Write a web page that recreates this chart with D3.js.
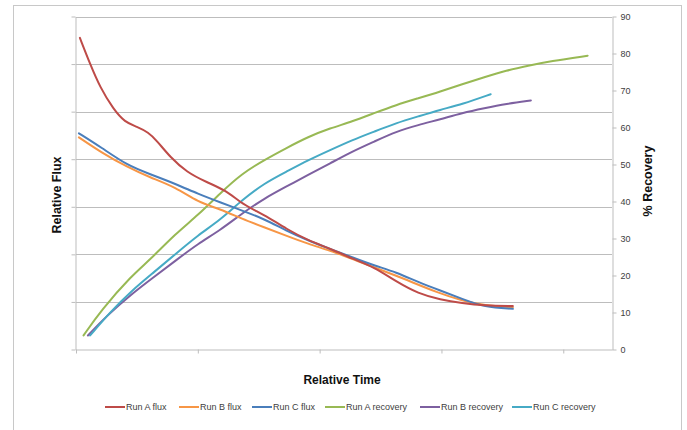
<!DOCTYPE html>
<html>
<head>
<meta charset="utf-8">
<script src="https://cdn.jsdelivr.net/npm/d3@7"></script>
<style>
  html, body { margin: 0; padding: 0; background: #fff; }
  svg { display: block; font-family: Arial, "Liberation Sans", sans-serif; }
</style>
</head>
<body>
<svg id="chart" width="687" height="430"></svg>
<script>
// ---------------- DATA ----------------
const seriesNames = ["Run A flux", "Run B flux", "Run C flux", "Run A recovery", "Run B recovery", "Run C recovery"];
const seriesColors = ["#BE4B48", "#F79646", "#4A7EBB", "#98B954", "#7D60A0", "#46AAC5"];

// Relative time (x) and relative flux (left axis)
const runAFluxT = [0.16, 0.58, 0.99, 1.53, 2.01, 2.50, 2.97, 3.32, 3.87, 4.55, 5.37, 6.17, 6.73, 7.36, 7.89, 8.62, 9.53, 10.44, 11.33, 12.24, 13.14, 14.05, 14.95, 15.85, 16.76, 17.93];
const runAFlux  = [1.310, 1.200, 1.102, 1.011, 0.955, 0.937, 0.913, 0.878, 0.808, 0.745, 0.703, 0.668, 0.619, 0.584, 0.556, 0.508, 0.458, 0.424, 0.382, 0.346, 0.286, 0.235, 0.210, 0.195, 0.185, 0.183];

const runBFluxT = [0.12, 1.03, 2.12, 3.02, 4.10, 5.01, 5.91, 6.82, 7.72, 8.62, 9.53, 10.43, 11.33, 13.14, 14.95, 15.85, 16.76, 17.93];
const runBFlux  = [0.892, 0.829, 0.766, 0.724, 0.682, 0.619, 0.591, 0.549, 0.514, 0.479, 0.444, 0.416, 0.381, 0.311, 0.234, 0.206, 0.185, 0.178];

const runCFluxT = [0.12, 1.03, 2.12, 3.02, 4.10, 5.01, 5.91, 6.82, 7.72, 8.62, 9.53, 10.43, 11.33, 12.24, 13.14, 14.05, 14.95, 15.85, 16.76, 17.93];
const runCFlux  = [0.909, 0.850, 0.773, 0.738, 0.696, 0.654, 0.619, 0.584, 0.549, 0.500, 0.458, 0.423, 0.388, 0.353, 0.325, 0.283, 0.248, 0.213, 0.178, 0.171];

// % recovery (right axis)
const runARecT = [0.31, 1.03, 2.30, 3.02, 4.10, 5.01, 5.91, 6.82, 7.72, 8.62, 9.53, 10.43, 11.33, 12.24, 13.14, 14.05, 14.95, 15.85, 16.76, 17.66, 18.56, 19.47, 21.0];
const runARec  = [3.8, 10.6, 20.1, 24.1, 31.4, 36.3, 42.2, 47.6, 51.2, 54.4, 57.5, 59.8, 61.6, 63.9, 66.1, 67.9, 69.7, 71.7, 73.6, 75.4, 76.7, 77.9, 79.4];

const runBRecT = [0.49, 1.21, 2.30, 3.20, 4.10, 5.01, 5.91, 6.82, 7.72, 8.62, 9.53, 10.43, 11.33, 12.24, 13.14, 14.05, 14.95, 15.85, 16.76, 17.66, 18.67];
const runBRec  = [3.8, 8.8, 15.1, 19.6, 24.1, 28.6, 32.2, 36.8, 40.8, 44.0, 47.2, 50.3, 53.5, 56.2, 58.9, 60.7, 62.2, 63.9, 65.2, 66.4, 67.3];

const runCRecT = [0.58, 1.40, 2.30, 3.20, 4.10, 5.01, 5.91, 6.82, 7.72, 8.62, 9.53, 10.43, 11.33, 12.24, 13.14, 14.05, 14.95, 15.85, 17.02];
const runCRec  = [3.8, 10.1, 16.0, 20.9, 25.9, 30.9, 35.0, 40.4, 44.9, 48.0, 51.2, 53.9, 56.6, 58.9, 61.2, 63.0, 64.8, 66.3, 69.0];

const xTicks = [0, 5, 10, 15, 20];
const fluxTicks = [0, 0.2, 0.4, 0.6, 0.8, 1.0, 1.2, 1.4];
const recTicks = [0, 10, 20, 30, 40, 50, 60, 70, 80, 90];

// ---------------- CHART ----------------
const svg = d3.select("#chart");
const pLeft = 76, pRight = 612, pTop = 16.5, pBottom = 349.5;

const x = d3.scaleLinear().domain([0, 22]).range([pLeft, pRight]);
const yFlux = d3.scaleLinear().domain([0, 1.4]).range([pBottom, pTop]);
const yRec = d3.scaleLinear().domain([0, 90]).range([pBottom, pTop]);

// outer frame
svg.append("rect").attr("x", 13.5).attr("y", 5.5).attr("width", 668).attr("height", 440)
  .attr("fill", "#fff").attr("stroke", "#c8c8c8").attr("stroke-width", 1);

// gridlines
svg.append("g").selectAll("line").data(fluxTicks.slice(1)).join("line")
  .attr("x1", pLeft).attr("x2", pRight)
  .attr("y1", d => Math.round(yFlux(d)) + 0.5).attr("y2", d => Math.round(yFlux(d)) + 0.5)
  .attr("stroke", "#bdbdbd").attr("stroke-width", 1);

// left axis (no labels)
const gL = svg.append("g").attr("transform", `translate(${pLeft - 0.5},0)`)
  .call(d3.axisLeft(yFlux).tickValues(fluxTicks).tickFormat("").tickSize(4).tickSizeOuter(0));
// right axis
const gR = svg.append("g").attr("transform", `translate(${pRight + 0.5},0)`)
  .call(d3.axisRight(yRec).tickValues(recTicks).tickFormat(d3.format("d")).tickSize(4).tickSizeOuter(0).tickPadding(4));
// bottom axis (no labels)
const gB = svg.append("g").attr("transform", `translate(0,${pBottom})`)
  .call(d3.axisBottom(x).tickValues(xTicks).tickFormat("").tickSize(4).tickSizeOuter(0));

[gL, gR, gB].forEach(g => {
  g.selectAll(".domain").attr("stroke", "#bdbdbd");
  g.selectAll(".tick line").attr("stroke", "#bdbdbd");
});
gR.selectAll(".tick text").attr("fill", "#404040").attr("font-size", 9)
  .attr("font-family", "Arial, 'Liberation Sans', sans-serif");

// lines
const series = [
  { t: runAFluxT, v: runAFlux, y: yFlux },
  { t: runBFluxT, v: runBFlux, y: yFlux },
  { t: runCFluxT, v: runCFlux, y: yFlux },
  { t: runARecT, v: runARec, y: yRec },
  { t: runBRecT, v: runBRec, y: yRec },
  { t: runCRecT, v: runCRec, y: yRec }
];
const drawOrder = [4, 5, 3, 1, 2, 0];
drawOrder.forEach(i => {
  const s = series[i];
  const pts = s.t.map((t, k) => [t, s.v[k]]);
  const line = d3.line().x(d => x(d[0])).y(d => s.y(d[1])).curve(d3.curveBasis);
  svg.append("path").datum(pts).attr("d", line)
    .attr("fill", "none").attr("stroke", seriesColors[i]).attr("stroke-width", 2)
    .attr("stroke-linejoin", "round").attr("stroke-linecap", "round");
});

// axis titles
svg.append("text").attr("transform", `translate(61,${(pTop + pBottom) / 2 + 12}) rotate(-90)`)
  .attr("text-anchor", "middle").attr("font-size", 12.5).attr("font-weight", "bold").attr("fill", "#111")
  .text("Relative Flux");
svg.append("text").attr("transform", `translate(652,181) rotate(-90)`)
  .attr("text-anchor", "middle").attr("font-size", 12.5).attr("font-weight", "bold").attr("fill", "#111")
  .text("% Recovery");
svg.append("text").attr("x", 342).attr("y", 384)
  .attr("text-anchor", "middle").attr("font-size", 12).attr("font-weight", "bold").attr("fill", "#111")
  .text("Relative Time");

// legend
const legendX = [105, 179, 252, 325, 420, 512];
const legend = svg.append("g");
seriesNames.forEach((name, i) => {
  const g = legend.append("g").attr("transform", `translate(${legendX[i]},407)`);
  g.append("line").attr("x1", 0).attr("x2", 20).attr("y1", 0).attr("y2", 0)
    .attr("stroke", seriesColors[i]).attr("stroke-width", 2);
  g.append("text").attr("x", 21).attr("y", 3.2).attr("font-size", 9).attr("fill", "#404040")
    .text(name);
});
</script>
</body>
</html>
